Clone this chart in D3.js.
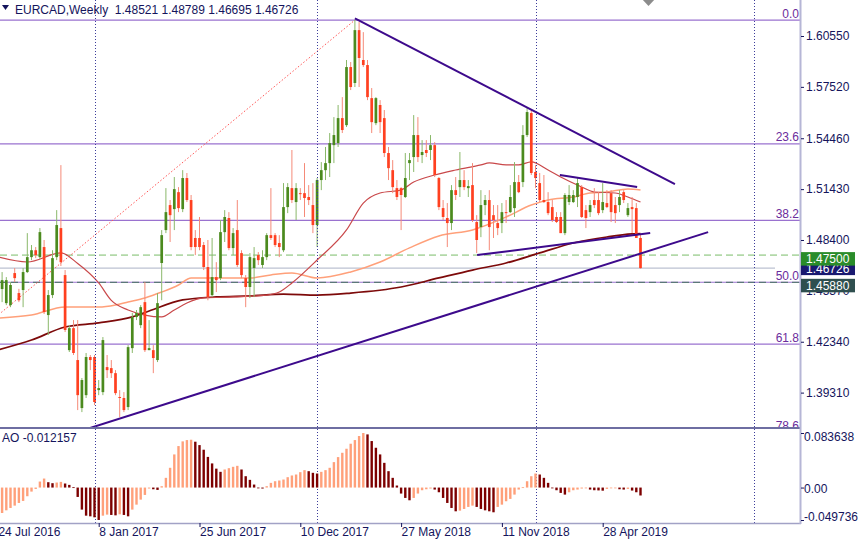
<!DOCTYPE html>
<html><head><meta charset="utf-8">
<script src="https://cdn.jsdelivr.net/npm/d3@7"></script>
<style>html,body{margin:0;padding:0;background:#fff;overflow:hidden}svg{display:block;font-family:"Liberation Sans",Arial,sans-serif}</style>
</head><body><svg id="c" width="860" height="540"></svg>
<script>
// ---------------- DATA ----------------
const symbolTitle = "EURCAD,Weekly  1.48521 1.48789 1.46695 1.46726";
const aoTitle = "AO -0.012157";
const dateLabels = ["24 Jul 2016","8 Jan 2017","25 Jun 2017","10 Dec 2017","27 May 2018","11 Nov 2018","28 Apr 2019"];
const dateLabelIdx = [0,24,48,72,96,120,144];
const gridIdx = [23,76,128,180];
const priceTicks = [1.6055,1.5752,1.5446,1.5143,1.4840,1.4537,1.4234,1.3931];
const aoTicks = [0.083638,0,-0.049736];

const opens = [
1.4590,1.4548,1.4464,1.4452,1.4643,1.4524,1.4542,1.4649,1.4738,1.4779,
1.4738,1.4798,1.4393,1.4512,1.4738,1.4911,1.4631,1.4184,1.4315,1.4125,
1.3839,1.3916,1.4143,1.4143,1.3946,1.3934,1.4083,1.4077,1.4047,1.3905,
1.3899,1.3845,1.4196,1.4381,1.4333,1.4470,1.4184,1.4184,1.4125,1.4703,
1.4899,1.5048,1.5024,1.5125,1.5024,1.5209,1.5078,1.4852,1.4852,1.4810,
1.4679,1.4512,1.4619,1.4613,1.4887,1.4971,1.4792,1.4899,1.4762,1.4613,
1.4560,1.4673,1.4750,1.4691,1.4738,1.4869,1.4869,1.4822,1.4779,1.5036,
1.5149,1.5066,1.5119,1.5119,1.5096,1.5048,1.4929,1.5197,1.5256,1.5298,
1.5405,1.5417,1.5566,1.5524,1.5870,1.5775,1.6090,1.5912,1.5882,1.5685,
1.5536,1.5644,1.5566,1.5358,1.5256,1.5149,1.5149,1.5096,1.5298,1.5334,
1.5465,1.5346,1.5376,1.5376,1.5405,1.5209,1.5030,1.4971,1.4941,1.5137,
1.5155,1.5197,1.5149,1.5167,1.4947,1.4917,1.5048,1.5078,1.4988,1.4941,
1.4941,1.5006,1.5006,1.5030,1.5185,1.5185,1.5465,1.5596,1.5245,1.5179,
1.5078,1.5066,1.5036,1.4977,1.4977,1.4881,1.5066,1.5066,1.5096,1.5155,
1.5018,1.5006,1.5078,1.5078,1.5018,1.5060,1.5119,1.5048,1.5048,1.5125,
1.4988,1.5036,1.5030,1.48521];
const highs = [
1.4640,1.4649,1.4619,1.4589,1.4673,1.4549,1.4673,1.4881,1.4810,1.4798,
1.4911,1.4840,1.4542,1.4779,1.5018,1.5286,1.4661,1.4333,1.4363,1.4363,
1.4018,1.4167,1.4155,1.4155,1.4006,1.4262,1.4155,1.4125,1.4065,1.3946,
1.3934,1.4214,1.4405,1.4423,1.4452,1.4589,1.4363,1.4214,1.4524,1.4899,
1.5149,1.5078,1.5215,1.5155,1.5256,1.5239,1.5108,1.4899,1.4977,1.4828,
1.4840,1.4852,1.4708,1.4959,1.5018,1.5006,1.4911,1.5078,1.4779,1.4631,
1.4762,1.4798,1.4768,1.4779,1.4881,1.5149,1.4881,1.4869,1.5179,1.5179,
1.5376,1.5179,1.5149,1.5298,1.5167,1.5179,1.5209,1.5304,1.5394,1.5477,
1.5572,1.5644,1.5691,1.5912,1.5900,1.6150,1.6138,1.6078,1.5912,1.5745,
1.5691,1.5673,1.5614,1.5394,1.5316,1.5197,1.5155,1.5358,1.5358,1.5584,
1.5572,1.5435,1.5435,1.5465,1.5423,1.5215,1.5078,1.5060,1.5167,1.5215,
1.5364,1.5256,1.5197,1.5298,1.4988,1.5137,1.5108,1.5137,1.5048,1.5048,
1.5060,1.5078,1.5167,1.5304,1.5227,1.5524,1.5626,1.5614,1.5286,1.5239,
1.5227,1.5125,1.5078,1.5006,1.5006,1.5119,1.5167,1.5137,1.5209,1.5167,
1.5048,1.5078,1.5149,1.5125,1.5179,1.5137,1.5137,1.5096,1.5137,1.5137,
1.5060,1.5096,1.5060,1.48789];
const lows = [
1.4520,1.4470,1.4452,1.4440,1.4589,1.4470,1.4440,1.4643,1.4720,1.4732,
1.4726,1.4399,1.4274,1.4494,1.4720,1.4685,1.4292,1.4173,1.4155,1.3827,
1.3815,1.3899,1.4065,1.3857,1.3916,1.3916,1.4018,1.4018,1.3916,1.3785,
1.3815,1.3827,1.4167,1.4363,1.4315,1.4173,1.4184,1.4047,1.4113,1.4481,
1.4881,1.4828,1.4899,1.5006,1.5006,1.5066,1.4779,1.4750,1.4779,1.4661,
1.4481,1.4500,1.4530,1.4601,1.4828,1.4779,1.4750,1.4679,1.4613,1.4440,
1.4494,1.4500,1.4691,1.4673,1.4720,1.4840,1.4798,1.4738,1.4768,1.5000,
1.5060,1.4959,1.5078,1.4977,1.5048,1.4881,1.4798,1.5137,1.5197,1.5215,
1.5298,1.5394,1.5477,1.5513,1.5733,1.5751,1.5751,1.5870,1.5673,1.5477,
1.5524,1.5477,1.5334,1.5197,1.5119,1.5078,1.4899,1.5090,1.5197,1.5245,
1.5304,1.5298,1.5334,1.5316,1.5215,1.5018,1.4959,1.4798,1.4899,1.5078,
1.5096,1.5137,1.5096,1.4947,1.4762,1.4857,1.4988,1.4779,1.4852,1.4869,
1.4881,1.4941,1.5000,1.4977,1.5119,1.5155,1.5453,1.5227,1.5149,1.5066,
1.5060,1.4988,1.4947,1.4941,1.4881,1.4869,1.5048,1.5060,1.5036,1.4971,
1.4911,1.4977,1.5030,1.4988,1.5000,1.5030,1.4947,1.4941,1.5006,1.5060,
1.4977,1.4881,1.4857,1.46695];
const closes = [
1.4560,1.4601,1.4601,1.4572,1.4613,1.4481,1.4649,1.4738,1.4779,1.4750,
1.4887,1.4411,1.4512,1.4732,1.4929,1.4708,1.4304,1.4315,1.4167,1.3916,
1.4006,1.4143,1.4125,1.3875,1.3958,1.4244,1.4065,1.4047,1.3928,1.3899,
1.3827,1.4202,1.4381,1.4405,1.4440,1.4184,1.4196,1.4137,1.4464,1.4869,
1.5006,1.4988,1.5143,1.5030,1.5209,1.5078,1.4798,1.4798,1.4798,1.4679,
1.4500,1.4619,1.4601,1.4887,1.4977,1.4792,1.4881,1.4691,1.4631,1.4560,
1.4738,1.4732,1.4720,1.4738,1.4869,1.4852,1.4810,1.4798,1.5036,1.5155,
1.5078,1.5149,1.5114,1.5090,1.5078,1.4929,1.5197,1.5256,1.5298,1.5417,
1.5465,1.5566,1.5495,1.5870,1.5751,1.6090,1.5924,1.5882,1.5691,1.5542,
1.5685,1.5542,1.5358,1.5268,1.5155,1.5096,1.5108,1.5209,1.5316,1.5465,
1.5334,1.5364,1.5358,1.5405,1.5227,1.5036,1.4977,1.4941,1.5137,1.5108,
1.5197,1.5155,1.5161,1.4959,1.4840,1.5048,1.5078,1.4917,1.4959,1.4911,
1.5006,1.5000,1.5096,1.5185,1.5125,1.5465,1.5602,1.5239,1.5209,1.5078,
1.5066,1.5000,1.4959,1.4947,1.4881,1.5108,1.5108,1.5108,1.5179,1.4977,
1.4971,1.5048,1.5048,1.5000,1.5066,1.5036,1.5006,1.5000,1.5096,1.5078,
1.5030,1.5024,1.48521,1.46726];

const aoValues = [
-0.0410,
-0.0390,-0.0349,-0.0313,-0.0277,-0.0236,-0.0205,-0.0133,-0.0062,-0.0021,
0.0092,0.0138,0.0082,0.0067,0.0077,0.0087,0.0062,0.0041,0.0005,-0.0144,
-0.0338,-0.0431,-0.0441,-0.0456,-0.0497,-0.0431,-0.0415,-0.0420,-0.0426,-0.0410,
-0.0420,-0.0441,-0.0338,-0.0262,-0.0185,-0.0113,-0.0015,-0.0026,-0.0036,0.0021,
0.0149,0.0303,0.0508,0.0636,0.0708,0.0728,0.0733,0.0703,0.0651,0.0580,
0.0470,0.0370,0.0290,0.0241,0.0277,0.0297,0.0318,0.0333,0.0277,0.0174,
0.0118,0.0046,-0.0005,-0.0015,0.0021,0.0072,0.0097,0.0108,0.0123,0.0159,
0.0185,0.0200,0.0236,0.0267,0.0251,0.0226,0.0215,0.0241,0.0267,0.0303,
0.0390,0.0467,0.0533,0.0595,0.0672,0.0728,0.0790,0.0836,0.0815,0.0713,
0.0610,0.0508,0.0379,0.0251,0.0149,0.0031,-0.0092,-0.0159,-0.0195,-0.0159,
-0.0092,-0.0041,-0.0026,-0.0015,-0.0031,-0.0072,-0.0159,-0.0236,-0.0313,-0.0364,
-0.0354,-0.0328,-0.0297,-0.0277,-0.0297,-0.0328,-0.0349,-0.0364,-0.0379,-0.0297,
-0.0262,-0.0210,-0.0174,-0.0108,-0.0031,0.0005,0.0097,0.0174,0.0215,0.0200,
0.0149,0.0072,-0.0005,-0.0041,-0.0082,-0.0108,-0.0072,-0.0041,-0.0031,-0.0015,
-0.0005,-0.0031,-0.0041,-0.0044,-0.0048,-0.0021,-0.0010,-0.0008,-0.0026,-0.0031,
-0.0021,-0.0046,-0.0072,-0.012157];

// moving averages: [bar index, price]
const maFast = [[0,1.4739],[7,1.4709],[15,1.4763],[19,1.4700],[24,1.4584],[27,1.4480],[31,1.4423],[35,1.4393],[39,1.4382],[42,1.4423],[45,1.4465],[49,1.4495],[56,1.4501],[64,1.4512],[67,1.4530],[70,1.4584],[76,1.4721],[83,1.4900],[87,1.5060],[91,1.5120],[96,1.5138],[99,1.5185],[104,1.5227],[109,1.5257],[115,1.5287],[117,1.5299],[121,1.5287],[124,1.5287],[127,1.5305],[131,1.5257],[134,1.5215],[139,1.5156],[142,1.5126],[147,1.5120],[150,1.5096],[153,1.5066]];
const maMid = [[0,1.4375],[8,1.4393],[16,1.4441],[24,1.4441],[28,1.4453],[31,1.4471],[35,1.4495],[39,1.4530],[43,1.4572],[46,1.4614],[52,1.4614],[60,1.4614],[65,1.4632],[70,1.4644],[76,1.4614],[84,1.4650],[91,1.4709],[98,1.4793],[105,1.4864],[113,1.4900],[121,1.4977],[127,1.5048],[131,1.5078],[137,1.5096],[141,1.5120],[145,1.5126],[150,1.5144],[153,1.5138]];
const maSlow = [[0,1.4185],[8,1.4244],[16,1.4322],[24,1.4346],[32,1.4382],[36,1.4417],[44,1.4483],[52,1.4501],[60,1.4507],[68,1.4518],[76,1.4512],[84,1.4524],[96,1.4560],[105,1.4614],[113,1.4661],[121,1.4703],[129,1.4763],[137,1.4822],[145,1.4858],[151,1.4876],[153,1.4878]];

// drawn objects: trendlines [i1,p1,i2,p2], fibonacci anchors, horizontal levels
const trendLines = [[85,1.6160,161.2,1.5173],[20,1.3705,169.1,1.4887],[133.8,1.5227,152.2,1.5155],[114.1,1.4750,155.3,1.4881]];
const fibAnchorIdx = [-66,85];
const fibAnchorPrice = [1.3027,1.6150];
const fibLevels = [0,23.6,38.2,50,61.8,78.6];
const levelGreen = 1.4750;
const levelSlate = 1.4588;
const bidPrice = 1.46726;

// ---------------- DRAW ----------------
const svg = d3.select("#c");
const n = opens.length;
const x = d3.scaleLinear().domain([0,190]).range([-2.1,-2.1+4.2*190]);
const y = d3.scaleLinear().domain([1.37203,1.62694]).range([428,0]);
const yAO = d3.scaleLinear().domain([-0.049736,0.083638]).range([520,433]);
const navy = "#14145c";
const minus = s => s.replace("\u2212","-");

svg.append("defs").append("clipPath").attr("id","mainClip")
  .append("rect").attr("x",0).attr("y",0).attr("width",800).attr("height",427);
svg.append("defs").append("clipPath").attr("id","aoClip")
  .append("rect").attr("x",0).attr("y",429).attr("width",800).attr("height",94);

const main = svg.append("g").attr("clip-path","url(#mainClip)");

// fib levels
const fibP = L => fibAnchorPrice[1] - (fibAnchorPrice[1]-fibAnchorPrice[0])*L/100;
main.selectAll("line.fib").data(fibLevels).join("line")
  .attr("x1",0).attr("x2",800)
  .attr("y1",d=>y(fibP(d))).attr("y2",d=>y(fibP(d)))
  .attr("stroke","#9a72cf").attr("stroke-width",1.2);
main.selectAll("text.fib").data(fibLevels).join("text")
  .attr("x",799).attr("y",d=>y(fibP(d))-2.5).attr("text-anchor","end")
  .attr("font-size",12).attr("fill","#6b2c9c").text(d=>d.toFixed(1));

// horizontal levels
main.append("line").attr("x1",0).attr("x2",800).attr("y1",y(levelGreen)).attr("y2",y(levelGreen))
  .attr("stroke","#b3d9a9").attr("stroke-width",1.6).attr("stroke-dasharray","7,4");
main.append("line").attr("x1",0).attr("x2",800).attr("y1",y(levelSlate)).attr("y2",y(levelSlate))
  .attr("stroke","#5b7878").attr("stroke-width",1.2).attr("stroke-dasharray","7,4");
main.append("line").attr("x1",0).attr("x2",775).attr("y1",y(bidPrice)).attr("y2",y(bidPrice))
  .attr("stroke","#bcc2d2").attr("stroke-width",1.2);

// fib diagonal
main.append("line")
  .attr("x1",x(fibAnchorIdx[0])).attr("y1",y(fibAnchorPrice[0]))
  .attr("x2",x(fibAnchorIdx[1])).attr("y2",y(fibAnchorPrice[1]))
  .attr("stroke","#ff5555").attr("stroke-width",1).attr("stroke-dasharray","1.5,2");

// vertical grid (both panels)
svg.selectAll("line.grid").data(gridIdx).join("line")
  .attr("x1",d=>Math.round(x(d))+0.5).attr("x2",d=>Math.round(x(d))+0.5)
  .attr("y1",0).attr("y2",523)
  .attr("stroke","#3c3c9a").attr("stroke-width",1).attr("stroke-dasharray","1,2");

// moving averages
const maLine = d3.line().x(d=>x(d[0])).y(d=>y(d[1])).curve(d3.curveMonotoneX);
main.append("path").attr("d",maLine(maSlow)).attr("fill","none").attr("stroke","#7d0a0a").attr("stroke-width",1.7);
main.append("path").attr("d",maLine(maMid)).attr("fill","none").attr("stroke","#ffa07a").attr("stroke-width",1.5);
main.append("path").attr("d",maLine(maFast)).attr("fill","none").attr("stroke","#c9484a").attr("stroke-width",1.2);

// candles
const idx = d3.range(n);
const up = i => closes[i] >= opens[i];
main.selectAll("line.wick").data(idx).join("line")
  .attr("x1",i=>x(i)).attr("x2",i=>x(i))
  .attr("y1",i=>y(highs[i])).attr("y2",i=>y(lows[i]))
  .attr("stroke",i=>up(i)?"#8ab86a":"#f58a78").attr("stroke-width",1);
main.selectAll("rect.body").data(idx).join("rect")
  .attr("x",i=>x(i)-1.35).attr("width",2.7)
  .attr("y",i=>y(Math.max(opens[i],closes[i])))
  .attr("height",i=>Math.max(1,Math.abs(y(opens[i])-y(closes[i]))))
  .attr("fill",i=>up(i)?"#4b8a1e":"#ff4020");

// trendlines
main.selectAll("line.trend").data(trendLines).join("line")
  .attr("x1",d=>x(d[0])).attr("y1",d=>y(d[1]))
  .attr("x2",d=>x(d[2])).attr("y2",d=>y(d[3]))
  .attr("stroke","#3d0a8c").attr("stroke-width",2);

// AO histogram
const ao = svg.append("g").attr("clip-path","url(#aoClip)");
ao.selectAll("rect").data(idx).join("rect")
  .attr("x",i=>x(i)-1.2).attr("width",2.4)
  .attr("y",i=>yAO(Math.max(0,aoValues[i])))
  .attr("height",i=>Math.max(0.8,Math.abs(yAO(aoValues[i])-yAO(0))))
  .attr("fill",i=>(i===0||aoValues[i]>=aoValues[i-1])?"#ffa07a":"#7d0000");
svg.append("text").attr("x",2).attr("y",442).attr("font-size",12).attr("fill",navy).text(aoTitle);

// panel borders
svg.append("line").attr("x1",0).attr("x2",801).attr("y1",428).attr("y2",428).attr("stroke","#6e6ea2").attr("stroke-width",2);
svg.append("line").attr("x1",0).attr("x2",801).attr("y1",523.5).attr("y2",523.5).attr("stroke","#a2a2c6").attr("stroke-width",1.5);
svg.append("line").attr("x1",800.5).attr("x2",800.5).attr("y1",0).attr("y2",524).attr("stroke","#b6b6d6").attr("stroke-width",2);

// right price axis
const yAxis = svg.append("g").attr("transform","translate(801,0)")
  .call(d3.axisRight(y).tickValues(priceTicks).tickSize(3).tickPadding(2).tickFormat(d3.format(".5f")));
yAxis.select(".domain").remove();
yAxis.selectAll("text").attr("font-size",12).attr("font-family","Liberation Sans, Arial, sans-serif").attr("fill",navy);
yAxis.selectAll("line").attr("stroke",navy);

// price tags
const tagData = [
  {p:bidPrice, top:-6.5, bg:"#191970"},
  {p:levelGreen, top:-3, bg:"#2a8c2a"},
  {p:levelSlate, top:-3.5, bg:"#2f4f4f"}];
const tags = svg.selectAll("g.tag").data(tagData).join("g");
tags.append("rect").attr("x",801).attr("width",54).attr("y",d=>y(d.p)+d.top).attr("height",13.5).attr("fill",d=>d.bg);
tags.append("text").attr("x",806).attr("y",d=>y(d.p)+d.top+11).attr("font-size",12).attr("fill","#fff").text(d=>d3.format(".5f")(d.p));

// AO axis
const aoAxis = svg.append("g").attr("transform","translate(801,0)")
  .call(d3.axisRight(yAO).tickValues(aoTicks).tickSize(3).tickPadding(0)
    .tickFormat(d=>d===0?"0.00":minus(d3.format(".6f")(d))));
aoAxis.select(".domain").remove();
const aoOff = [3.6,1.4,-3.3];
aoAxis.selectAll("text").attr("font-size",12).attr("font-family","Liberation Sans, Arial, sans-serif").attr("fill",navy)
  .attr("y",(d,k)=>aoOff[k]);
aoAxis.selectAll("line").attr("stroke",navy);

// bottom time axis
const xAxis = svg.append("g").attr("transform","translate(0,523)")
  .call(d3.axisBottom(x).tickValues(dateLabelIdx).tickSize(4).tickPadding(0).tickFormat((d,k)=>dateLabels[k]));
xAxis.select(".domain").remove();
xAxis.selectAll("text").attr("font-size",12).attr("font-family","Liberation Sans, Arial, sans-serif").attr("fill",navy).attr("text-anchor","start").attr("dx",0);
xAxis.selectAll("line").attr("stroke",navy);

// title
svg.append("path").attr("d","M2,5 L9,5 L5.5,10 Z").attr("fill",navy);
svg.append("text").attr("x",15).attr("y",13.5).attr("font-size",12).attr("fill",navy).attr("xml:space","preserve").text(symbolTitle);
// chart shift marker
svg.append("path").attr("d","M641,-2 L656,-2 L648.5,6 Z").attr("fill","#8c8c8c");
</script></body></html>
